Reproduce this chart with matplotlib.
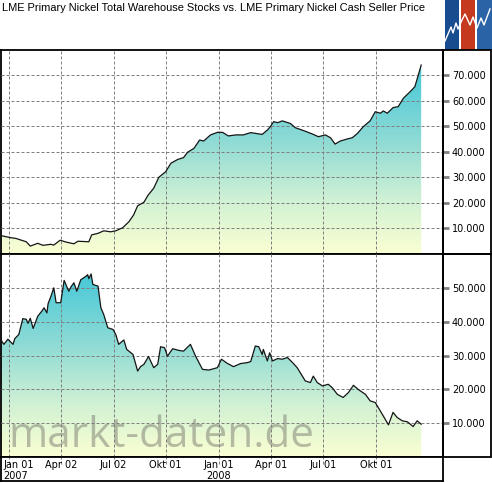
import matplotlib
matplotlib.use('Agg')
import matplotlib.pyplot as plt
import matplotlib.dates as mdates
from matplotlib.patches import Rectangle
from matplotlib.colors import LinearSegmentedColormap
from matplotlib.ticker import FuncFormatter
import numpy as np
import pandas as pd

title = "LME Primary Nickel Total Warehouse Stocks vs. LME Primary Nickel Cash Seller Price"
watermark = "markt-daten.de"

# LME nickel warehouse stocks (t)
stock_dates = ['2006-12-18', '2007-01-04', '2007-01-13', '2007-01-31', '2007-02-07', '2007-02-20',
               '2007-03-01', '2007-03-15', '2007-03-20', '2007-03-31', '2007-04-10', '2007-04-24',
               '2007-05-01', '2007-05-20', '2007-05-25', '2007-06-05', '2007-06-15', '2007-06-27',
               '2007-07-06', '2007-07-18', '2007-07-29', '2007-08-06', '2007-08-13', '2007-08-24',
               '2007-08-31', '2007-09-10', '2007-09-19', '2007-10-01', '2007-10-10', '2007-10-22',
               '2007-11-01', '2007-11-08', '2007-11-19', '2007-11-29', '2007-12-06', '2007-12-18',
               '2007-12-30', '2008-01-08', '2008-01-18', '2008-01-31', '2008-02-13', '2008-02-26',
               '2008-03-17', '2008-03-26', '2008-03-31', '2008-04-06', '2008-04-13', '2008-04-21',
               '2008-05-05', '2008-05-14', '2008-05-28', '2008-06-12', '2008-06-23', '2008-07-05',
               '2008-07-14', '2008-07-22', '2008-07-31', '2008-08-12', '2008-08-21', '2008-08-30',
               '2008-09-09', '2008-09-21', '2008-09-30', '2008-10-09', '2008-10-14', '2008-10-21',
               '2008-10-31', '2008-11-09', '2008-11-18', '2008-11-30', '2008-12-08', '2008-12-14',
               '2008-12-19']
stock_values = [7200, 6400, 6100, 4800, 3100, 4200, 3400, 3800, 3500, 5400,
                4700, 4000, 5000, 4800, 7500, 8100, 9100, 8700, 9100, 10300,
                12700, 15300, 18900, 20300, 23000, 25800, 30100, 32300, 35600, 37100,
                37800, 39900, 41400, 44700, 44300, 46700, 47700, 47700, 46300, 46700,
                46700, 47600, 46900, 48600, 49900, 51900, 51500, 52200, 51200, 49500,
                48400, 47100, 46000, 46700, 45600, 43100, 44300, 45100, 45600, 47300,
                49900, 52200, 55800, 55200, 56100, 55200, 57400, 57800, 61100, 63700,
                65600, 70200, 74100]

# LME nickel cash seller price (USD/t)
price_dates = ['2006-12-18', '2006-12-23', '2006-12-30', '2007-01-08', '2007-01-11', '2007-01-18',
               '2007-01-25', '2007-01-31', '2007-02-03', '2007-02-07', '2007-02-12', '2007-02-20',
               '2007-02-27', '2007-03-03', '2007-03-08', '2007-03-10', '2007-03-15', '2007-03-20',
               '2007-03-24', '2007-04-01', '2007-04-07', '2007-04-10', '2007-04-15', '2007-04-19',
               '2007-04-24', '2007-04-29', '2007-05-06', '2007-05-15', '2007-05-18', '2007-05-20',
               '2007-05-24', '2007-05-27', '2007-06-05', '2007-06-10', '2007-06-15', '2007-06-22',
               '2007-07-01', '2007-07-06', '2007-07-11', '2007-07-20', '2007-07-25', '2007-08-05',
               '2007-08-13', '2007-08-18', '2007-08-24', '2007-09-01', '2007-09-10', '2007-09-17',
               '2007-09-22', '2007-09-29', '2007-10-04', '2007-10-13', '2007-10-24', '2007-11-01',
               '2007-11-13', '2007-11-22', '2007-12-04', '2007-12-15', '2007-12-30', '2008-01-06',
               '2008-01-16', '2008-01-27', '2008-02-08', '2008-02-20', '2008-02-26', '2008-03-05',
               '2008-03-11', '2008-03-17', '2008-03-19', '2008-03-26', '2008-03-30', '2008-04-04',
               '2008-04-13', '2008-04-21', '2008-04-30', '2008-05-09', '2008-05-17', '2008-05-26',
               '2008-05-31', '2008-06-09', '2008-06-14', '2008-06-21', '2008-06-30', '2008-07-10',
               '2008-07-17', '2008-07-26', '2008-08-05', '2008-08-14', '2008-08-23', '2008-08-31',
               '2008-09-13', '2008-09-21', '2008-09-30', '2008-10-12', '2008-10-23', '2008-10-31',
               '2008-11-07', '2008-11-16', '2008-11-25', '2008-12-05', '2008-12-12', '2008-12-19']
price_values = [34600, 33300, 34800, 33300, 35000, 36200, 40900, 40700, 39500, 41000,
                38000, 41600, 43100, 44100, 42600, 45300, 47500, 50000, 45600, 45600,
                52200, 51000, 49000, 50300, 51500, 49000, 52400, 53400, 53900, 52700,
                54100, 51000, 50500, 44100, 42100, 38200, 37700, 36200, 33300, 34600,
                31800, 30300, 25400, 26700, 27400, 29700, 26400, 27400, 32600, 32300,
                29800, 32000, 31500, 31300, 33300, 29800, 25900, 25700, 26400, 28900,
                27700, 26700, 27600, 27900, 28200, 32800, 32600, 30300, 31800, 28400,
                30800, 28400, 29100, 28900, 29400, 27900, 26400, 23900, 22500, 22000,
                23900, 22000, 21000, 21500, 20500, 18500, 17600, 19000, 21200, 20000,
                18500, 16600, 16100, 12700, 9500, 13200, 11700, 10700, 10400, 9000,
                10700, 9700]

tick_dates = ['2007-01-01', '2007-04-02', '2007-07-02', '2007-10-01',
              '2008-01-01', '2008-04-01', '2008-07-01', '2008-10-01']
tick_labels = ['Jan 01', 'Apr 02', 'Jul 02', 'Okt 01', 'Jan 01', 'Apr 01', 'Jul 01', 'Okt 01']
year_labels = {0: '2007', 4: '2008'}
stock_ticks = [10000, 20000, 30000, 40000, 50000, 60000, 70000]
price_ticks = [10000, 20000, 30000, 40000, 50000]
x_range = ['2006-12-18', '2009-01-26']

W, H = 492, 483


def box(x0, y0, x1, y1):
    return [x0 / W, 1 - y1 / H, (x1 - x0) / W, (y1 - y0) / H]


fig = plt.figure(figsize=(W / 100, H / 100), dpi=100)
fig.patch.set_facecolor('white')

cmap = LinearSegmentedColormap.from_list(
    'fill', [(0, '#fbffd2'), (0.25, '#d2f2d4'), (0.55, '#8fdbd5'), (1, '#33c3d9')])
xmin, xmax = mdates.date2num(pd.to_datetime(x_range))
tick_x = mdates.date2num(pd.to_datetime(tick_dates))
fmt = FuncFormatter(lambda v, p: f'{int(v):,}'.replace(',', '.'))


def panel(ax, dates, values, ymax, ticks):
    x = mdates.date2num(pd.to_datetime(dates))
    grad = np.linspace(0, 1, 256).reshape(-1, 1)
    im = ax.imshow(grad, cmap=cmap, origin='lower', aspect='auto',
                   extent=[x[0], x[-1], 0, ymax], zorder=1, interpolation='bilinear')
    poly = ax.fill_between(x, values, 0, facecolor='none', edgecolor='none')
    im.set_clip_path(poly.get_paths()[0], transform=ax.transData)
    ax.plot(x, values, color='#151515', lw=0.9, zorder=4)
    ax.set_xlim(xmin, xmax)
    ax.set_ylim(0, ymax)
    ax.set_xticks(tick_x)
    ax.set_yticks(ticks)
    ax.yaxis.set_major_formatter(fmt)
    ax.yaxis.tick_right()
    ax.tick_params(axis='x', length=0, labelbottom=False)
    ax.tick_params(axis='y', direction='out', length=4.5, width=2, color='#808080',
                   labelsize=7, pad=2, labelcolor='black')
    ax.set_axisbelow(False)
    ax.grid(True, color='#808080', linestyle=(0, (3, 2)), lw=0.72)
    for s in ax.spines.values():
        s.set_linewidth(1.3)


ax1 = fig.add_axes(box(1, 50, 443, 254))
panel(ax1, stock_dates, stock_values, 80000, stock_ticks)
ax2 = fig.add_axes(box(1, 254, 443, 457))
panel(ax2, price_dates, price_values, 60000, price_ticks)

wm = ax2.text(7 / 442, 10 / 203, watermark, transform=ax2.transAxes, fontsize=30,
              family='Open Sans', color='#7a7a70', alpha=0.5, va='baseline', ha='left', zorder=2)

# right-hand label panels
for y0, y1 in [(50, 254), (254, 457)]:
    fig.patches.append(Rectangle((443 / W, 1 - y1 / H), 48 / W, (y1 - y0) / H,
                                 transform=fig.transFigure, fill=False, lw=1.3,
                                 edgecolor='black', zorder=5))

# date axis box
ax3 = fig.add_axes(box(1, 457, 443, 481))
ax3.set_xlim(xmin, xmax)
ax3.set_ylim(0, 1)
ax3.set_xticks([])
ax3.set_yticks([])
for s in ax3.spines.values():
    s.set_linewidth(1.3)
ax3.vlines(tick_x, 0.72, 1, color='#808080', linestyle=(0, (3, 2)), lw=0.72)
for i, (tx, lab) in enumerate(zip(tick_x, tick_labels)):
    if i == 0:
        ax3.text(2 / 442, 13 / 24, lab, transform=ax3.transAxes, fontsize=7, ha='left', va='baseline')
        ax3.text(2 / 442, 2 / 24, year_labels[i], transform=ax3.transAxes, fontsize=7,
                 ha='left', va='baseline')
    else:
        ax3.text(tx, 13 / 24, lab, fontsize=7, ha='center', va='baseline')
        if i in year_labels:
            ax3.text(tx, 2 / 24, year_labels[i], fontsize=7, ha='center', va='baseline')

# title
tt = fig.text(2 / W, 1 - 11 / H, title, fontsize=8, ha='left', va='baseline',
              family='Liberation Sans')

# logo
logo_colors = ['#174c8e', '#c53a1f', '#2b64a6']
logo_stripes = [(445, 459), (461, 475), (477, 492)]
logo_line_x = [445, 451, 453, 456, 458, 462, 465, 470, 473, 477, 481, 484, 490]
logo_line_y = [41, 27, 33, 23, 29, 20, 14, 25, 17, 28, 18, 25, 9]
axl = fig.add_axes(box(443, 0, 492, 50))
axl.set_xlim(443, 492)
axl.set_ylim(50, 0)
axl.axis('off')
for (a, b), c in zip(logo_stripes, logo_colors):
    axl.axvspan(a, b, color=c, lw=0)
axl.plot(logo_line_x, logo_line_y, color='white', lw=1.0)

# fit text widths
fig.canvas.draw()
r = fig.canvas.get_renderer()
for t, target in [(tt, 424), (wm, 305)]:
    w = t.get_window_extent(r).width
    t.set_fontsize(t.get_fontsize() * target / w)

fig.savefig('out.png', dpi=100)
